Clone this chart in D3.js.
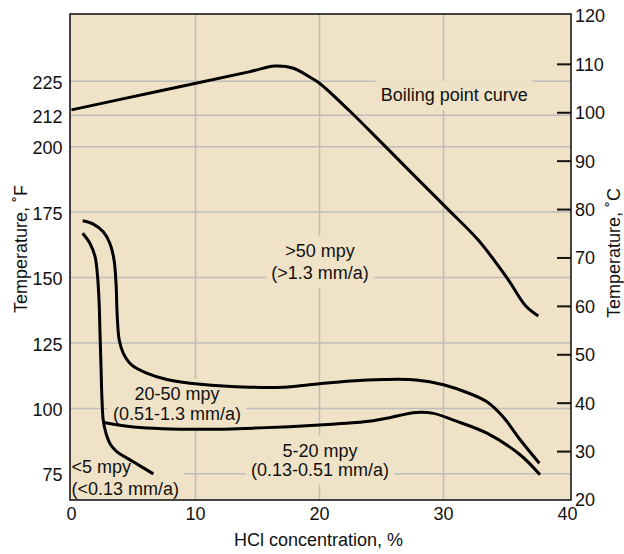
<!DOCTYPE html>
<html>
<head>
<meta charset="utf-8">
<script src="https://cdn.jsdelivr.net/npm/d3@7"></script>
<style>
  html, body { margin: 0; padding: 0; background: #ffffff; }
  svg { display: block; font-family: "Liberation Sans", Arial, Helvetica, sans-serif; }
</style>
</head>
<body>
<svg id="chart" width="624" height="554"></svg>
<script>
// ---- axis ticks ----
const xTicks = [0, 10, 20, 30, 40];                       // HCl concentration, %
const fTicks = [75, 100, 125, 150, 175, 200, 212, 225];   // left axis, °F
const cTicks = [20, 30, 40, 50, 60, 70, 80, 90, 100, 110, 120]; // right axis, °C

// ---- curves: [HCl %, temperature °C] ----
const boilingCurve = [
  [0.0, 100.6], [7.1, 104.5], [14.4, 108.5], [16.4, 109.65], [17.9, 109.2],
  [19.2, 107.4], [20.0, 106.1], [22.5, 100.2], [25.2, 93.3], [27.8, 86.6],
  [30.3, 80.2], [32.8, 73.7], [35.2, 65.6], [36.6, 60.2], [37.65, 58.0]
];
// boundary between >50 mpy and 20-50 mpy
const curve50 = [
  [0.9, 77.7], [1.76, 77.0], [2.56, 75.4], [3.1, 73.0], [3.43, 69.6],
  [3.59, 64.8], [3.69, 57.9], [3.85, 53.05], [4.18, 50.3], [4.85, 47.9],
  [6.06, 46.2], [7.68, 44.9], [10.4, 43.9], [14.4, 43.3], [17.1, 43.3],
  [20.0, 44.0], [22.5, 44.6], [25.2, 44.9], [27.8, 44.8], [30.0, 43.8],
  [32.1, 42.0], [33.5, 40.3], [34.8, 37.2], [36.2, 32.4], [37.73, 27.6]
];
// boundary between 20-50 mpy and 5-20 mpy
const curve20 = [
  [2.6, 36.0], [5.0, 35.1], [10.4, 34.6], [15.2, 34.9], [20.0, 35.5],
  [23.8, 36.2], [25.4, 36.9], [27.8, 38.1], [29.2, 37.9], [30.8, 36.5],
  [33.5, 33.8], [36.2, 29.3], [37.78, 25.2]
];
// boundary between <5 mpy and 5-20 mpy
const curve5 = [
  [0.9, 75.1], [1.49, 73.0], [1.9, 70.3], [2.08, 66.8], [2.22, 61.3],
  [2.3, 54.4], [2.38, 47.5], [2.46, 40.7], [2.56, 36.5], [2.78, 33.8],
  [3.16, 31.4], [3.65, 30.0], [4.98, 27.9], [6.6, 25.4]
];

// ---- zone labels: anchor in [HCl %, °C per line] ----
const zoneLabels = [
  { lines: ["Boiling point curve"], x: 24.93, t: [103.7], anchor: "start" },
  { lines: [">50 mpy", "(>1.3 mm/a)"], x: 20.04, t: [71.5, 67.0], anchor: "middle" },
  { lines: ["20-50 mpy", "(0.51-1.3 mm/a)"], x: 8.51, t: [42.0, 37.8], anchor: "middle" },
  { lines: ["5-20 mpy", "(0.13-0.51 mm/a)"], x: 20.04, t: [30.3, 26.35], anchor: "middle" },
  { lines: ["<5 mpy", "(<0.13 mm/a)"], x: 0.0, t: [26.96, 22.31], anchor: "start" }
];

// ---- layout ----
const frame = { left: 70, top: 14, right: 571, bottom: 500 };
const plotFill = "#efe2c6";
const gridColor = "#bdbdbd";
const fontSize = 18;

const svg = d3.select("#chart");

const x = d3.scaleLinear().domain([0, 40]).range([frame.left + 1.5, frame.right - 3.5]);
const yC = d3.scaleLinear().domain([20, 120.4]).range([frame.bottom, frame.top]);
const yF = d3.scaleLinear().domain([65, 250.7]).range([frame.bottom, frame.top]);

svg.append("defs").append("clipPath").attr("id", "plot-clip")
  .append("rect")
  .attr("x", frame.left).attr("y", frame.top)
  .attr("width", frame.right - frame.left).attr("height", frame.bottom - frame.top);

// plot background
svg.append("rect")
  .attr("x", frame.left).attr("y", frame.top)
  .attr("width", frame.right - frame.left).attr("height", frame.bottom - frame.top)
  .attr("fill", plotFill);

// grid
const grid = svg.append("g").attr("clip-path", "url(#plot-clip)")
  .attr("stroke", gridColor).attr("stroke-width", 1.5);
grid.selectAll("line.h").data(fTicks).join("line").attr("class", "h")
  .attr("x1", frame.left).attr("x2", frame.right)
  .attr("y1", d => yF(d)).attr("y2", d => yF(d));
grid.selectAll("line.v").data(xTicks.filter(d => d > 0 && d < 40)).join("line").attr("class", "v")
  .attr("x1", d => x(d)).attr("x2", d => x(d))
  .attr("y1", frame.top).attr("y2", frame.bottom);

// label backdrops sit over the grid, below the curves
const backdropLayer = svg.append("g").attr("clip-path", "url(#plot-clip)");

// frame
svg.append("rect")
  .attr("x", frame.left).attr("y", frame.top)
  .attr("width", frame.right - frame.left).attr("height", frame.bottom - frame.top)
  .attr("fill", "none").attr("stroke", "#1a1a1a").attr("stroke-width", 1.6);

// curves
const line = d3.line()
  .x(d => x(d[0])).y(d => yC(d[1]))
  .curve(d3.curveCatmullRom.alpha(0.5));
svg.append("g")
  .selectAll("path")
  .data([boilingCurve, curve50, curve20, curve5])
  .join("path")
  .attr("d", line)
  .attr("fill", "none")
  .attr("stroke", "#000")
  .attr("stroke-width", 3)
  .attr("stroke-linejoin", "round");

// zone labels with backdrops
const labelLayer = svg.append("g")
  .attr("font-size", fontSize).attr("fill", "#111");
zoneLabels.forEach(z => {
  const g = labelLayer.append("g");
  z.lines.forEach((s, i) => {
    g.append("text")
      .attr("x", x(z.x)).attr("y", yC(z.t[i]))
      .attr("dy", "0.36em")
      .attr("text-anchor", z.anchor)
      .text(s);
  });
  const bb = g.node().getBBox();
  const padX = 5, padY = 5;
  backdropLayer.append("rect")
    .attr("x", bb.x - padX).attr("y", bb.y - padY)
    .attr("width", bb.width + 2 * padX).attr("height", bb.height + 2 * padY)
    .attr("fill", plotFill);
});

// right axis tick marks (inside the frame)
svg.append("g").attr("stroke", "#111").attr("stroke-width", 2)
  .selectAll("line").data(cTicks.filter(d => d > 20 && d < 120)).join("line")
  .attr("x1", frame.right - 14).attr("x2", frame.right)
  .attr("y1", d => yC(d)).attr("y2", d => yC(d));

const tickText = svg.append("g").attr("font-size", fontSize).attr("fill", "#111");

// left axis labels (°F)
tickText.selectAll("text.f").data(fTicks).join("text").attr("class", "f")
  .attr("x", frame.left - 7.5).attr("y", d => yF(d))
  .attr("dy", "0.42em").attr("text-anchor", "end")
  .text(d => d);

// right axis labels (°C)
tickText.selectAll("text.c").data(cTicks).join("text").attr("class", "c")
  .attr("x", frame.right + 4).attr("y", d => yC(d))
  .attr("dy", "0.36em").attr("text-anchor", "start")
  .text(d => d);

// bottom axis labels
tickText.selectAll("text.x").data(xTicks).join("text").attr("class", "x")
  .attr("x", d => x(d)).attr("y", frame.bottom + 19.5)
  .attr("text-anchor", "middle")
  .text(d => d);

// axis titles
const titles = svg.append("g").attr("font-size", fontSize).attr("fill", "#111");
titles.append("text")
  .attr("x", (frame.left + frame.right) / 2 - 2).attr("y", 546)
  .attr("text-anchor", "middle")
  .text("HCl concentration, %");
titles.append("text")
  .attr("transform", "translate(27,249) rotate(-90)")
  .attr("text-anchor", "middle")
  .text("Temperature, \u02DAF");
titles.append("text")
  .attr("transform", "translate(620,253) rotate(-90)")
  .attr("text-anchor", "middle")
  .text("Temperature, \u02DAC");
</script>
</body>
</html>
